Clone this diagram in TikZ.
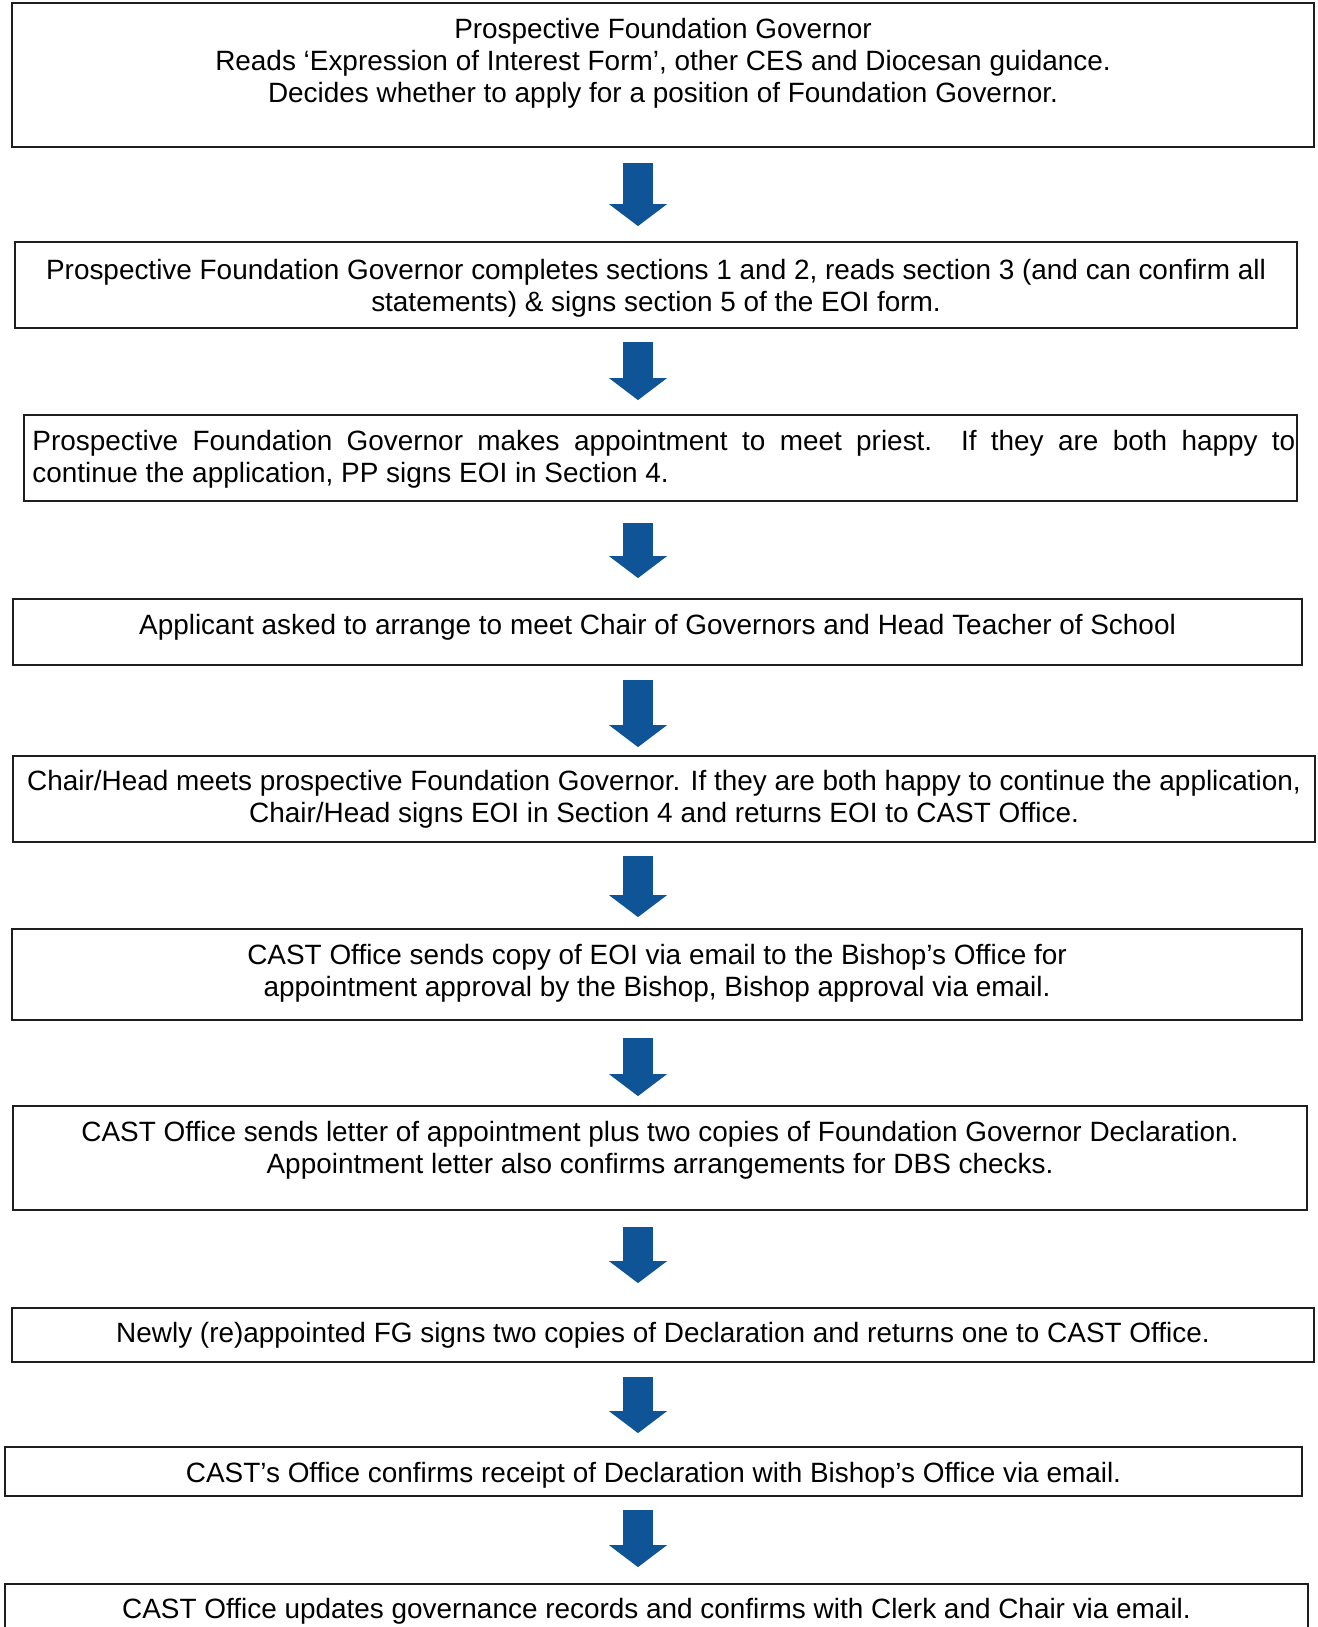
\documentclass[tikz,border=0pt]{standalone}
\usepackage{fontspec}
\setmainfont{Liberation Sans}
\usetikzlibrary{arrows.meta,positioning,fit}
\definecolor{arrowblue}{RGB}{14,84,150}
\definecolor{boxline}{RGB}{30,30,30}
\begin{document}
\begin{tikzpicture}[x=0.5pt,y=-0.5pt,
  box/.style={draw=boxline, line width=0.9pt, inner sep=0pt},
  txt/.style={inner sep=0pt, align=center, font=\fontsize{13.96}{16}\selectfont},
  flow/.style={draw=arrowblue, line width=15pt,
    -{Triangle[width=29pt,length=11pt,line width=0pt]}}]
\useasboundingbox (0,0) rectangle (1317,1627);
\fill[white] (0,0) rectangle (1317,1627);
% boxes
\node[box, fit={(12,3) (1314,147)}] (b1) {};
\node[box, fit={(15,242) (1297,328)}] (b2) {};
\node[box, fit={(24,415) (1297,501)}] (b3) {};
\node[box, fit={(13,599) (1302,665)}] (b4) {};
\node[box, fit={(13,756) (1315,842)}] (b5) {};
\node[box, fit={(12,929) (1302,1020)}] (b6) {};
\node[box, fit={(13,1106) (1307,1210)}] (b7) {};
\node[box, fit={(12,1308) (1314,1362)}] (b8) {};
\node[box, fit={(5,1447) (1302,1496)}] (b9) {};
\node[box, fit={(5,1584) (1308,1660)}] (b10) {};
% texts
\node[txt] (t1) at (663,63) {Prospective Foundation Governor\\Reads ‘Expression of Interest Form’, other CES and Diocesan guidance.\\Decides whether to apply for a position of Foundation Governor.};
\node[txt] (t2) at (656,288) {Prospective Foundation Governor completes sections 1 and 2, reads section 3 (and can confirm all\\statements) \& signs section 5 of the EOI form.};
\node[txt, align=justify, text width=631.5pt, anchor=west] (t3) at (32,459.5) {Prospective Foundation Governor makes appointment to meet priest.\ \ If they are both happy to\linebreak continue the application, PP signs EOI in Section 4.};
\node[txt] (t4) at (657.5,627) {Applicant asked to arrange to meet Chair of Governors and Head Teacher of School};
\node[txt] (t5) at (664,799) {Chair/Head meets prospective Foundation Governor. If they are both happy to continue the application,\\Chair/Head signs EOI in Section 4 and returns EOI to CAST Office.};
\node[txt] (t6) at (657,973) {CAST Office sends copy of EOI via email to the Bishop’s Office for\\appointment approval by the Bishop, Bishop approval via email.};
\node[txt] (t7) at (660,1150.5) {CAST Office sends letter of appointment plus two copies of Foundation Governor Declaration.\\Appointment letter also confirms arrangements for DBS checks.};
\node[txt] (t8) at (663,1335) {Newly (re)appointed FG signs two copies of Declaration and returns one to CAST Office.};
\node[txt] (t9) at (653.5,1475) {CAST’s Office confirms receipt of Declaration with Bishop’s Office via email.};
\node[txt] (t10) at (656.5,1611) {CAST Office updates governance records and confirms with Clerk and Chair via email.};
% arrows
\coordinate (ax) at (638,0);
\draw[flow, shorten <=7.5pt, shorten >=7.5pt] (b1.south -| ax) -- (b2.north -| ax);
\draw[flow, shorten <=6.5pt, shorten >=7pt] (b2.south -| ax) -- (b3.north -| ax);
\draw[flow, shorten <=10.5pt, shorten >=10pt] (b3.south -| ax) -- (b4.north -| ax);
\draw[flow, shorten <=7pt, shorten >=4pt] (b4.south -| ax) -- (b5.north -| ax);
\draw[flow, shorten <=6.5pt, shorten >=5.5pt] (b5.south -| ax) -- (b6.north -| ax);
\draw[flow, shorten <=8.5pt, shorten >=4.5pt] (b6.south -| ax) -- (b7.north -| ax);
\draw[flow, shorten <=8pt, shorten >=12pt] (b7.south -| ax) -- (b8.north -| ax);
\draw[flow, shorten <=7pt, shorten >=6.5pt] (b8.south -| ax) -- (b9.north -| ax);
\draw[flow, shorten <=6.5pt, shorten >=8pt] (b9.south -| ax) -- (b10.north -| ax);
\end{tikzpicture}
\end{document}
